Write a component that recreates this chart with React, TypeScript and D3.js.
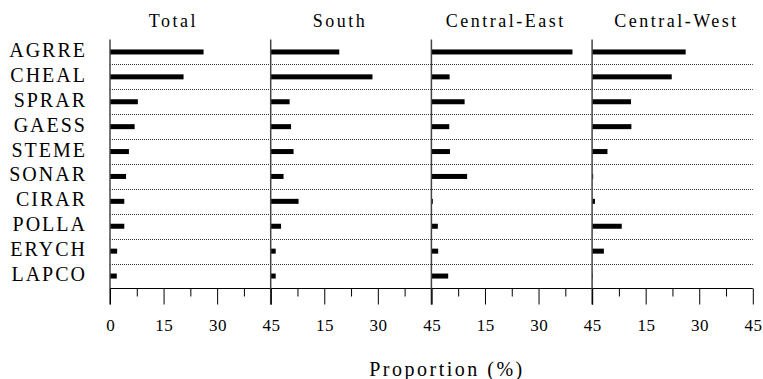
import React, { useEffect, useRef } from "react";
import * as d3 from "d3";

const species = ["AGRRE", "CHEAL", "SPRAR", "GAESS", "STEME", "SONAR", "CIRAR", "POLLA", "ERYCH", "LAPCO"];
const regions = ["Total", "South", "Central-East", "Central-West"];
const total = [26.2, 20.6, 7.8, 6.9, 5.3, 4.5, 4.0, 4.0, 2.0, 1.9];
const south = [19.2, 28.5, 5.3, 5.7, 6.4, 3.6, 7.8, 2.9, 1.4, 1.4];
const centralEast = [39.5, 5.1, 9.3, 5.0, 5.2, 10.0, 0.4, 1.8, 1.9, 4.7];
const centralWest = [26.2, 22.3, 10.9, 11.0, 4.3, 0.3, 0.8, 8.3, 3.3, 0.2];
const majorTicks = [0, 15, 30, 45];
const minorTicks = [7.5, 22.5, 37.5];
const xLabel = "Proportion (%)";

const W = 763;
const H = 379;
const serif = '"Liberation Serif", "Tinos", "Noto Serif", "DejaVu Serif", "Times New Roman", serif';

export default function App() {
  const ref = useRef<SVGSVGElement>(null);

  useEffect(() => {
    const svg = d3.select(ref.current);
    svg.selectAll("*").remove();

    const series = [total, south, centralEast, centralWest];
    const left = 110;
    const panelW = 160.7;
    const top = 39.5;
    const bottom = 288.5;
    const titleShift = [-17, -11, -6, 4];

    const y = d3.scaleBand<string>().domain(species).range([top, bottom]).padding(0);
    const barH = 5;

    // dotted separators between rows
    svg.append("g")
      .selectAll("line")
      .data(species.slice(1))
      .join("line")
        .attr("x1", left)
        .attr("x2", left + panelW * 4)
        .attr("y1", d => Math.round(y(d)!) + 0.5)
        .attr("y2", d => Math.round(y(d)!) + 0.5)
        .attr("stroke", "#333")
        .attr("stroke-width", 1)
        .attr("stroke-dasharray", "1,1");

    // species labels
    svg.append("g")
      .selectAll("text")
      .data(species)
      .join("text")
        .attr("x", 87)
        .attr("y", d => y(d)! + y.bandwidth() / 2 + 5)
        .attr("text-anchor", "end")
        .style("font-family", serif)
        .style("font-size", "20px")
        .style("letter-spacing", "2px")
        .text(d => d);

    // baseline
    svg.append("line")
      .attr("x1", left)
      .attr("x2", left + panelW * 4)
      .attr("y1", bottom)
      .attr("y2", bottom)
      .attr("stroke", "#000")
      .attr("stroke-width", 1);

    regions.forEach((name, i) => {
      const x0 = left + panelW * i;
      const x = d3.scaleLinear().domain([0, 45]).range([x0, x0 + panelW]);
      const g = svg.append("g");

      g.selectAll("rect")
        .data(series[i])
        .join("rect")
          .attr("x", x(0))
          .attr("y", (_, j) => y(species[j])! + y.bandwidth() / 2 - barH / 2)
          .attr("width", d => x(d) - x(0))
          .attr("height", barH)
          .attr("fill", "#000");

      g.append("line")
        .attr("x1", x(0))
        .attr("x2", x(0))
        .attr("y1", top)
        .attr("y2", bottom + 16)
        .attr("stroke", "#444")
        .attr("stroke-width", 1.5);

      const major = d3.axisBottom(x)
        .tickValues(majorTicks)
        .tickSize(16)
        .tickSizeOuter(0)
        .tickFormat(d => (i > 0 && d === 0 ? "" : String(d)));
      const ga = g.append("g").attr("transform", `translate(0,${bottom})`).call(major);
      ga.attr("font-family", null).attr("font-size", null);
      ga.select(".domain").remove();
      ga.selectAll(".tick line").attr("stroke", "#000");
      ga.selectAll(".tick text")
        .style("font-family", serif)
        .style("font-size", "17px")
        .style("letter-spacing", "0.5px")
        .attr("dx", 0.25)
        .attr("y", 30)
        .attr("dy", "0.71em")
        .attr("fill", "#000");

      const minor = d3.axisBottom(x).tickValues(minorTicks).tickSize(8).tickSizeOuter(0).tickFormat(() => "");
      const gm = g.append("g").attr("transform", `translate(0,${bottom})`).call(minor);
      gm.select(".domain").remove();
      gm.selectAll(".tick line").attr("stroke", "#000");

      g.append("text")
        .attr("x", x0 + panelW / 2 + titleShift[i])
        .attr("y", 27)
        .attr("text-anchor", "middle")
        .style("font-family", serif)
        .style("font-size", "18px")
        .style("letter-spacing", "2.5px")
        .text(name);
    });

    svg.append("text")
      .attr("x", 447)
      .attr("y", 376)
      .attr("text-anchor", "middle")
      .style("font-family", serif)
      .style("font-size", "20px")
      .style("letter-spacing", "2.5px")
      .text(xLabel);
  }, []);

  return (
    <svg
      ref={ref}
      width={W}
      height={H}
      style={{ position: "absolute", left: 0, top: 0, background: "#fff" }}
    />
  );
}
